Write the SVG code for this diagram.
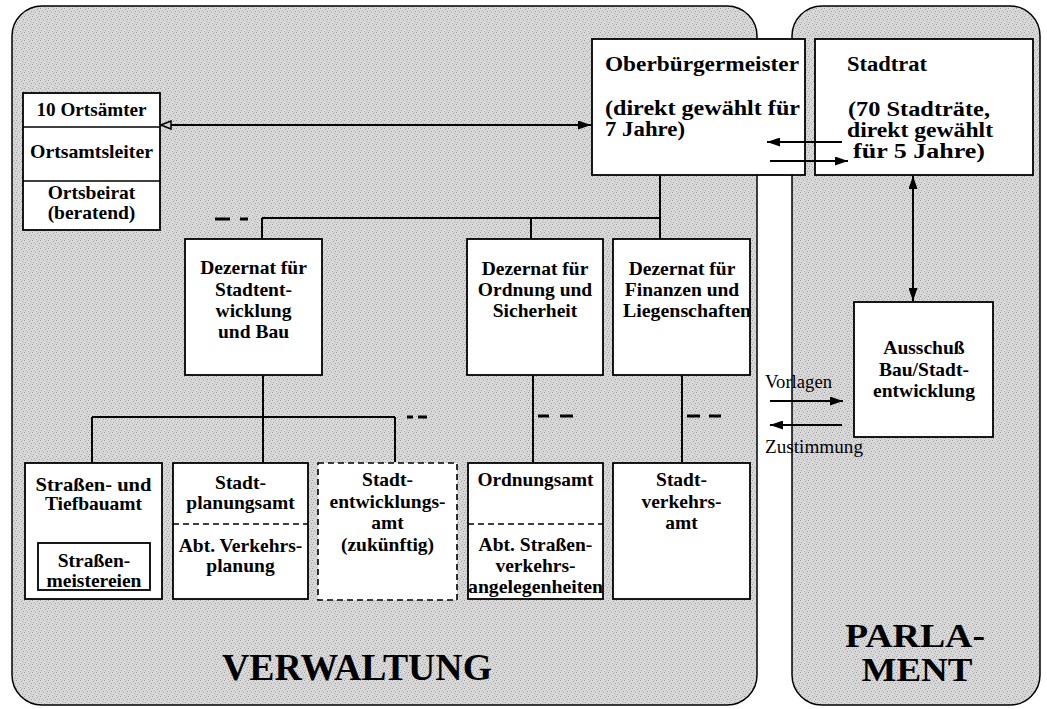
<svg xmlns="http://www.w3.org/2000/svg" width="1047" height="709" viewBox="0 0 1047 709">
<defs>
<pattern id="stip" width="8" height="8" patternUnits="userSpaceOnUse">
<rect width="8" height="8" fill="#d9d9d9"/>
<rect x="0" y="0" width="1" height="1" fill="#9c9c9c"/>
<rect x="5" y="1" width="1" height="1" fill="#a4a4a4"/>
<rect x="2" y="2" width="1" height="1" fill="#b0b0b0"/>
<rect x="7" y="3" width="1" height="1" fill="#9c9c9c"/>
<rect x="3" y="4" width="1" height="1" fill="#a8a8a8"/>
<rect x="6" y="5" width="1" height="1" fill="#b0b0b0"/>
<rect x="1" y="6" width="1" height="1" fill="#a0a0a0"/>
<rect x="4" y="7" width="1" height="1" fill="#b4b4b4"/>
<rect x="6" y="0" width="1" height="1" fill="#bdbdbd"/>
<rect x="1" y="3" width="1" height="1" fill="#bdbdbd"/>
<rect x="4" y="2" width="1" height="1" fill="#c2c2c2"/>
<rect x="7" y="6" width="1" height="1" fill="#c0c0c0"/>
</pattern>
<marker id="ah" viewBox="0 0 13 9" refX="13" refY="4.5" markerWidth="13" markerHeight="9" orient="auto-start-reverse" markerUnits="userSpaceOnUse">
<path d="M0,0 L13,4.5 L0,9 Z" fill="#000"/>
</marker>
<marker id="aho" viewBox="0 0 12 10" refX="11" refY="5" markerWidth="12" markerHeight="10" orient="auto-start-reverse" markerUnits="userSpaceOnUse">
<path d="M1,1 L11,5 L1,9 Z" fill="#cfcfcf" stroke="#000" stroke-width="1.5"/>
</marker>
</defs>
<style>
.panel{fill:url(#stip);stroke:#000;stroke-width:1.5}
.box{fill:#fff;stroke:#000;stroke-width:1.8}
.dbox{fill:#fff;stroke:#000;stroke-width:1.6;stroke-dasharray:6 4}
.div{stroke:#000;stroke-width:1.5;fill:none}
.ddiv{stroke:#000;stroke-width:1.5;stroke-dasharray:6 4;fill:none}
.ln{stroke:#000;stroke-width:2;fill:none}
.dash{stroke:#000;stroke-width:3;fill:none}
text{font-family:"Liberation Serif","Times New Roman",serif;font-weight:bold;font-size:19.5px;fill:#000}
.c{text-anchor:middle}
.big{font-size:20px}
.lbl{font-weight:normal;font-size:18px}
.title{font-size:38px}
.title2{font-size:34px}
</style>
<rect width="1047" height="709" fill="#fff"/>

<g id="panel-verwaltung">
<rect class="panel" x="12" y="6" width="745" height="699" rx="30" ry="30"/>
<text x="222" y="680" class="title" textLength="270" lengthAdjust="spacingAndGlyphs">VERWALTUNG</text>
</g>
<g id="panel-parlament">
<rect class="panel" x="792" y="6" width="248" height="699" rx="30" ry="30"/>
<text x="915" y="647" class="title2 c" textLength="140" lengthAdjust="spacingAndGlyphs">PARLA-</text>
<text x="917" y="681" class="title2 c" textLength="111" lengthAdjust="spacingAndGlyphs">MENT</text>
</g>

<g id="ortsaemter">
<rect class="box" x="23" y="93" width="137" height="137"/>
<line class="div" x1="23" y1="127" x2="160" y2="127"/>
<line class="div" x1="23" y1="181" x2="160" y2="181"/>
<text x="91.5" y="116" class="c" textLength="110" lengthAdjust="spacingAndGlyphs">10 Ortsämter</text>
<text x="91.5" y="158" class="c" textLength="123" lengthAdjust="spacingAndGlyphs">Ortsamtsleiter</text>
<text x="91.5" y="199" class="c">Ortsbeirat</text>
<text x="91.5" y="219" class="c">(beratend)</text>
</g>

<g id="oberbuergermeister">
<rect class="box" x="592" y="39" width="213" height="136"/>
<text x="605" y="71" class="big" textLength="194" lengthAdjust="spacingAndGlyphs">Oberbürgermeister</text>
<text x="605" y="115" class="big" textLength="195" lengthAdjust="spacingAndGlyphs">(direkt gewählt für</text>
<text x="605" y="136" class="big" textLength="80" lengthAdjust="spacingAndGlyphs">7 Jahre)</text>
</g>

<g id="stadtrat">
<rect class="box" x="815" y="39" width="218" height="136"/>
<text x="847" y="71" class="big" textLength="80" lengthAdjust="spacingAndGlyphs">Stadtrat</text>
<text x="919" y="116" class="big c" textLength="142" lengthAdjust="spacingAndGlyphs">(70 Stadträte,</text>
<text x="920" y="137" class="big c" textLength="146" lengthAdjust="spacingAndGlyphs">direkt gewählt</text>
<text x="919" y="158" class="big c" textLength="132" lengthAdjust="spacingAndGlyphs">für 5 Jahre)</text>
</g>

<g id="dez-stadtentwicklung">
<rect class="box" x="185" y="239" width="137" height="136"/>
<text x="253.5" y="274" class="c">Dezernat für</text>
<text x="253.5" y="296" class="c">Stadtent-</text>
<text x="253.5" y="317" class="c">wicklung</text>
<text x="253.5" y="338" class="c">und Bau</text>
</g>
<g id="dez-ordnung">
<rect class="box" x="467" y="239" width="136" height="136"/>
<text x="535" y="275" class="c">Dezernat für</text>
<text x="535" y="296" class="c">Ordnung und</text>
<text x="535" y="317" class="c">Sicherheit</text>
</g>
<g id="dez-finanzen">
<rect class="box" x="613" y="239" width="137" height="136"/>
<text x="682" y="275" class="c">Dezernat für</text>
<text x="682" y="296" class="c">Finanzen und</text>
<text x="687" y="317" class="c" textLength="128" lengthAdjust="spacingAndGlyphs">Liegenschaften</text>
</g>

<g id="ausschuss">
<rect class="box" x="854" y="302" width="139" height="135"/>
<text x="924" y="354" class="c">Ausschuß</text>
<text x="924" y="376" class="c">Bau/Stadt-</text>
<text x="924" y="397" class="c">entwicklung</text>
</g>

<g id="strassen-tiefbauamt">
<rect class="box" x="25" y="463" width="137" height="136"/>
<text x="93.5" y="491" class="c" textLength="116" lengthAdjust="spacingAndGlyphs">Straßen- und</text>
<text x="93.5" y="510" class="c">Tiefbauamt</text>
<rect class="box" x="38" y="543" width="112" height="47"/>
<text x="94" y="567" class="c">Straßen-</text>
<text x="94" y="587" class="c">meistereien</text>
</g>
<g id="stadtplanungsamt">
<rect class="box" x="173" y="463" width="135" height="136"/>
<line class="ddiv" x1="173" y1="524" x2="308" y2="524"/>
<text x="240.5" y="489" class="c">Stadt-</text>
<text x="240.5" y="509" class="c">planungsamt</text>
<text x="240.5" y="552" class="c">Abt. Verkehrs-</text>
<text x="240.5" y="572" class="c">planung</text>
</g>
<g id="stadtentwicklungsamt">
<rect class="dbox" x="318" y="463" width="139" height="137"/>
<text x="387.5" y="486" class="c">Stadt-</text>
<text x="387.5" y="508" class="c">entwicklungs-</text>
<text x="387.5" y="529" class="c">amt</text>
<text x="387.5" y="551" class="c">(zukünftig)</text>
</g>
<g id="ordnungsamt">
<rect class="box" x="468" y="463" width="135" height="136"/>
<line class="ddiv" x1="468" y1="524" x2="603" y2="524"/>
<text x="535.5" y="486" class="c" textLength="116" lengthAdjust="spacingAndGlyphs">Ordnungsamt</text>
<text x="535.5" y="551" class="c">Abt. Straßen-</text>
<text x="535.5" y="572" class="c">verkehrs-</text>
<text x="535.5" y="593" class="c" textLength="135" lengthAdjust="spacingAndGlyphs">angelegenheiten</text>
</g>
<g id="stadtverkehrsamt">
<rect class="box" x="613" y="463" width="137" height="136"/>
<text x="681.5" y="486" class="c">Stadt-</text>
<text x="681.5" y="508" class="c">verkehrs-</text>
<text x="681.5" y="529" class="c">amt</text>
</g>

<g id="connectors">
<line class="ln" x1="161" y1="125" x2="591" y2="125" marker-start="url(#aho)" marker-end="url(#ah)"/>
<line class="ln" x1="842" y1="142" x2="767" y2="142" marker-end="url(#ah)"/>
<line class="ln" x1="770" y1="161" x2="848" y2="161" marker-end="url(#ah)"/>
<line class="ln" x1="913" y1="176" x2="913" y2="301" marker-start="url(#ah)" marker-end="url(#ah)"/>
<line class="ln" x1="770" y1="401" x2="843" y2="401" marker-end="url(#ah)"/>
<line class="ln" x1="842" y1="425" x2="770" y2="425" marker-end="url(#ah)"/>
<path class="ln" d="M660,176 V238 M262,218 H660 M262,218 V238 M531,218 V238"/>
<path class="dash" d="M215,219 H230 M240,219 H248"/>
<path class="ln" d="M263,376 V462 M92,417 H395 M92,417 V462 M395,417 V462"/>
<path class="dash" d="M407,417 H413 M418,417 H427"/>
<path class="ln" d="M533,376 V462 M682,376 V462"/>
<path class="dash" d="M538,416 H549 M560,416 H573 M687,416 H700 M709,416 H721"/>
<text x="765" y="388" class="lbl" textLength="67" lengthAdjust="spacingAndGlyphs">Vorlagen</text>
<text x="765" y="453" class="lbl" textLength="98" lengthAdjust="spacingAndGlyphs">Zustimmung</text>
</g>
</svg>
